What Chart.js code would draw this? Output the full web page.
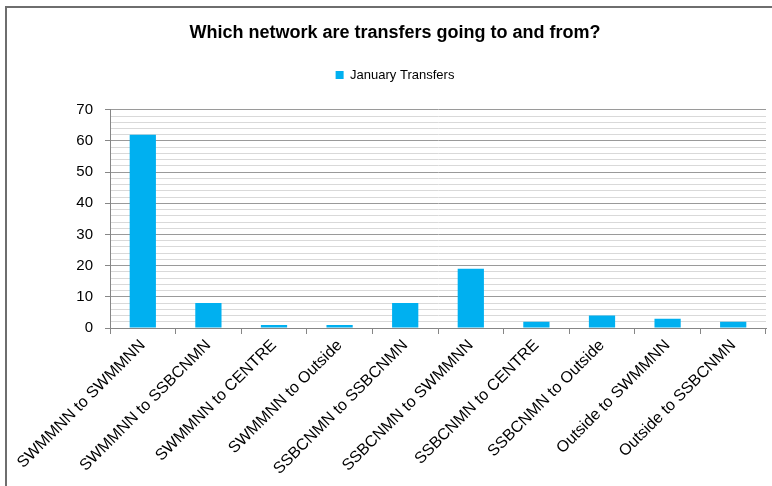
<!DOCTYPE html>
<html>
<head>
<meta charset="utf-8">
<script src="https://cdn.jsdelivr.net/npm/chart.js@4.4.1/dist/chart.umd.min.js"></script>
<style>
  html, body { margin: 0; padding: 0; background: #fff; }
  #wrap { position: relative; width: 772px; height: 486px; overflow: hidden; }
  #frame { position: absolute; left: 5px; top: 6px; width: 800px; height: 600px;
           border-left: 2px solid #6e6e6e; border-top: 2px solid #6e6e6e; }
  canvas { position: absolute; left: 0; top: 0; }
</style>
</head>
<body>
<div id="wrap">
  <div id="frame"></div>
  <canvas id="chart" width="772" height="486"></canvas>
</div>
<script>
const categories = [
  "SWMMNN to SWMMNN", "SWMMNN to SSBCNMN", "SWMMNN to CENTRE", "SWMMNN to Outside",
  "SSBCNMN to SSBCNMN", "SSBCNMN to SWMMNN", "SSBCNMN to CENTRE", "SSBCNMN to Outside",
  "Outside to SWMMNN", "Outside to SSBCNMN"
];
const januaryTransfers = [62, 8, 1, 1, 8, 19, 2, 4, 3, 2];

const font = "'Liberation Sans', Arial, sans-serif";

const ctx = document.getElementById('chart').getContext('2d');
new Chart(ctx, {
  type: 'bar',
  data: {
    labels: categories,
    datasets: [{
      label: 'January Transfers',
      data: januaryTransfers,
      backgroundColor: '#00B0F0',
      borderWidth: 0,
      barPercentage: 0.4,
      categoryPercentage: 1
    }]
  },
  options: {
    responsive: false,
    animation: false,
    layout: { padding: { left: 24, right: 6, top: 0, bottom: 0 } },
    plugins: {
      title: {
        display: true,
        text: 'Which network are transfers going to and from?',
        color: '#000',
        font: { family: font, size: 18, weight: 'bold' },
        padding: { top: 22, bottom: -4 }
      },
      // empty spacer between the legend and the plot
      subtitle: {
        display: true,
        text: '',
        weight: 500,
        font: { size: 1 },
        padding: { top: 17, bottom: 0 }
      },
      legend: {
        display: true,
        labels: {
          color: '#000',
          font: { family: font, size: 13 },
          boxWidth: 8,
          boxHeight: 8,
          padding: 29
        }
      },
      tooltip: { enabled: false }
    },
    scales: {
      x: {
        grid: {
          drawOnChartArea: false,
          color: '#868686',
          tickLength: 6
        },
        border: { color: '#868686', width: 1 },
        ticks: {
          color: '#000',
          font: { family: font, size: 16 },
          maxRotation: 45,
          minRotation: 45,
          autoSkip: false,
          padding: 2
        },
        afterFit: function (scale) { scale.height = 158; }
      },
      y: {
        min: 0,
        max: 70,
        ticks: {
          stepSize: 2,
          autoSkip: false,
          color: '#000',
          font: { family: font, size: 15 },
          padding: 12,
          callback: function (v) { return v % 10 === 0 ? String(v) : ''; }
        },
        grid: {
          color: function (c) { return c.tick && c.tick.value % 10 === 0 ? '#9a9a9a' : '#d9d9d9'; },
          tickColor: function (c) { return c.tick && c.tick.value % 10 === 0 ? '#868686' : 'rgba(0,0,0,0)'; },
          tickLength: 5,
          lineWidth: 1
        },
        border: { color: '#868686', width: 1 },
        afterFit: function (scale) { scale.width = 86; }
      }
    }
  }
});
</script>
</body>
</html>
